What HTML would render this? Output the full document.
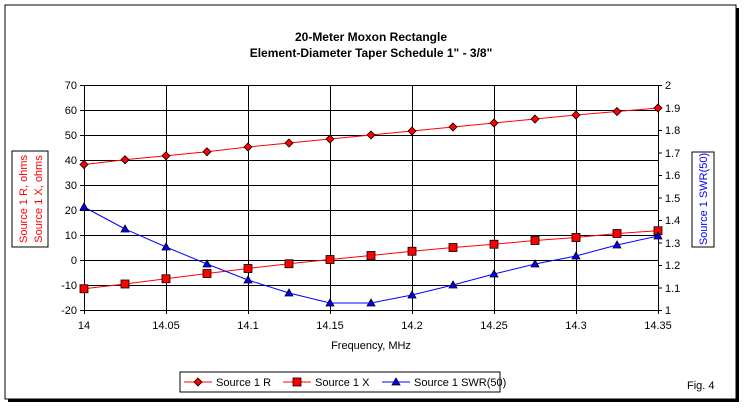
<!DOCTYPE html>
<html><head><meta charset="utf-8"><style>
body{margin:0;background:#fff;width:744px;height:407px;overflow:hidden}
text{font-family:"Liberation Sans",Arial,sans-serif;font-size:11px;fill:#000}
</style></head><body>
<svg width="744" height="407" viewBox="0 0 744 407">
<rect x="0" y="0" width="744" height="407" fill="#fff"/>
<rect x="8" y="8" width="731" height="394" fill="#000"/>
<rect x="5" y="5" width="731" height="394" fill="#fff" stroke="#000" stroke-width="1"/>
<text x="371" y="41" text-anchor="middle" style="font-weight:bold;font-size:12px">20-Meter Moxon Rectangle</text>
<text x="371" y="57" text-anchor="middle" style="font-weight:bold;font-size:12px">Element-Diameter Taper Schedule 1" - 3/8"</text>
<g stroke="#000" stroke-width="1">
<path d="M84 85.5H658M84 110.5H658M84 135.5H658M84 160.5H658M84 185.5H658M84 210.5H658M84 235.5H658M84 260.5H658M84 285.5H658M84 310.5H658"/>
<path d="M84.5 85V314M166.5 85V314M248.5 85V314M330.5 85V314M412.5 85V314M494.5 85V314M576.5 85V314M658.5 85V314"/>
<path d="M80 85.5H84M80 110.5H84M80 135.5H84M80 160.5H84M80 185.5H84M80 210.5H84M80 235.5H84M80 260.5H84M80 285.5H84M80 310.5H84"/>
<path d="M658 85.5H662M658 108H662M658 130.5H662M658 153H662M658 175.5H662M658 198H662M658 220.5H662M658 243H662M658 265.5H662M658 288H662M658 310.5H662"/>
</g>
<g text-anchor="end">
<text x="77" y="89">70</text><text x="77" y="114">60</text><text x="77" y="139">50</text><text x="77" y="164">40</text><text x="77" y="189">30</text><text x="77" y="214">20</text><text x="77" y="239">10</text><text x="77" y="264">0</text><text x="77" y="289">-10</text><text x="77" y="314">-20</text>
</g>
<g>
<text x="665" y="89">2</text><text x="665" y="112">1.9</text><text x="665" y="134">1.8</text><text x="665" y="157">1.7</text><text x="665" y="179">1.6</text><text x="665" y="202">1.5</text><text x="665" y="224">1.4</text><text x="665" y="247">1.3</text><text x="665" y="269">1.2</text><text x="665" y="292">1.1</text><text x="665" y="314">1</text>
</g>
<g text-anchor="middle">
<text x="84" y="329">14</text><text x="166" y="329">14.05</text><text x="248" y="329">14.1</text><text x="330" y="329">14.15</text><text x="412" y="329">14.2</text><text x="494" y="329">14.25</text><text x="576" y="329">14.3</text><text x="658" y="329">14.35</text>
</g>
<text x="371" y="349" text-anchor="middle">Frequency, MHz</text>
<rect x="12" y="151" width="36" height="96" fill="#fff" stroke="#000"/>
<text transform="translate(27,199) rotate(-90)" text-anchor="middle" style="fill:#f00">Source 1 R,  ohms</text>
<text transform="translate(42,199) rotate(-90)" text-anchor="middle" style="fill:#f00">Source 1 X,  ohms</text>
<rect x="692" y="152" width="22" height="95" fill="#fff" stroke="#000"/>
<text transform="translate(707,199) rotate(-90)" text-anchor="middle" style="fill:#00f">Source 1 SWR(50)</text>
<polyline fill="none" stroke="#f00" points="84,164.5 125,159.75 166,155.75 207,151.75 248,147 289,143 330,139 371,135 412,131 453,127 494,123 535,119 576,115 617,111.5 658,108"/>
<polyline fill="none" stroke="#f00" points="84,288.75 125,284 166,278.75 207,273.5 248,268.5 289,263.75 330,259.5 371,255.5 412,251.25 453,247.5 494,244.25 535,240.5 576,237.5 617,233.5 658,230.75"/>
<polyline fill="none" stroke="#00f" points="84,207 125,229 166,247 207,264 248,280 289,293 330,303 371,303 412,295 453,285 494,274 535,264 576,256 617,245 658,236"/>
<g fill="#f00" stroke="#000" stroke-width="0.8">
<path d="M84 160.5l4 4-4 4-4-4zM125 155.75l4 4-4 4-4-4zM166 151.75l4 4-4 4-4-4zM207 147.75l4 4-4 4-4-4zM248 143l4 4-4 4-4-4zM289 139l4 4-4 4-4-4zM330 135l4 4-4 4-4-4zM371 131l4 4-4 4-4-4zM412 127l4 4-4 4-4-4zM453 123l4 4-4 4-4-4zM494 119l4 4-4 4-4-4zM535 115l4 4-4 4-4-4zM576 111l4 4-4 4-4-4zM617 107.5l4 4-4 4-4-4zM658 104l4 4-4 4-4-4z"/>
<rect x="80" y="284.75" width="8" height="8"/><rect x="121" y="280" width="8" height="8"/><rect x="162" y="274.75" width="8" height="8"/><rect x="203" y="269.5" width="8" height="8"/><rect x="244" y="264.5" width="8" height="8"/><rect x="285" y="259.75" width="8" height="8"/><rect x="326" y="255.5" width="8" height="8"/><rect x="367" y="251.5" width="8" height="8"/><rect x="408" y="247.25" width="8" height="8"/><rect x="449" y="243.5" width="8" height="8"/><rect x="490" y="240.25" width="8" height="8"/><rect x="531" y="236.5" width="8" height="8"/><rect x="572" y="233.5" width="8" height="8"/><rect x="613" y="229.5" width="8" height="8"/><rect x="654" y="226.75" width="8" height="8"/>
</g>
<g fill="#00f" stroke="#000" stroke-width="0.8">
<path d="M84 203l4 7h-8zM125 225l4 7h-8zM166 243l4 7h-8zM207 260l4 7h-8zM248 276l4 7h-8zM289 289l4 7h-8zM330 299l4 7h-8zM371 299l4 7h-8zM412 291l4 7h-8zM453 281l4 7h-8zM494 270l4 7h-8zM535 260l4 7h-8zM576 252l4 7h-8zM617 241l4 7h-8zM658 232l4 7h-8z"/>
</g>
<rect x="180" y="372" width="320" height="20" fill="#fff" stroke="#000"/>
<line x1="184" y1="382" x2="212" y2="382" stroke="#f00"/><path d="M198 378l4 4-4 4-4-4z" fill="#f00" stroke="#000" stroke-width="0.8"/>
<text x="216" y="386">Source 1 R</text>
<line x1="283" y1="382" x2="311" y2="382" stroke="#f00"/><rect x="293" y="378" width="8" height="8" fill="#f00" stroke="#000" stroke-width="0.8"/>
<text x="315" y="386">Source 1 X</text>
<line x1="382" y1="382" x2="410" y2="382" stroke="#00f"/><path d="M396 378l4 7h-8z" fill="#00f" stroke="#000" stroke-width="0.8"/>
<text x="414" y="386">Source 1 SWR(50)</text>
<text x="687" y="389">Fig. 4</text>
</svg>
</body></html>
